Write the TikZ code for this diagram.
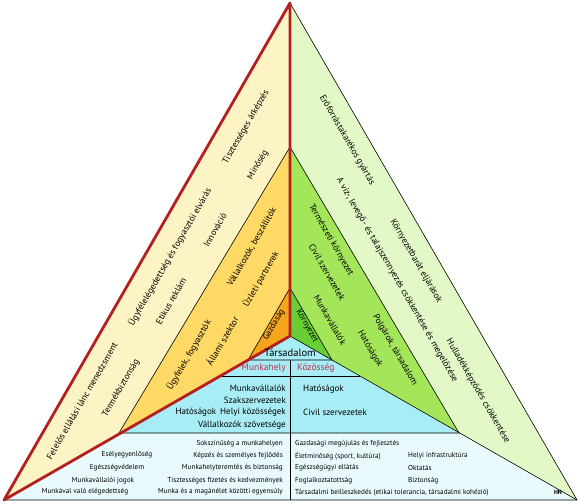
\documentclass[tikz,border=0pt]{standalone}
\usepackage{fontspec}
\setmainfont{PT Sans}
\usepackage{xcolor}
\usetikzlibrary{calc}
\definecolor{econpale}{HTML}{FDF4C6}
\definecolor{econmid}{HTML}{FFD966}
\definecolor{econcore}{HTML}{F8A51E}
\definecolor{envpale}{HTML}{E2F8C6}
\definecolor{envmid}{HTML}{A3E65A}
\definecolor{envcore}{HTML}{67CF33}
\definecolor{socmid}{HTML}{A8ECF5}
\definecolor{socpale}{HTML}{E9FAFD}
\definecolor{redc}{HTML}{B3201F}
\definecolor{workc}{HTML}{B8334A}
\tikzset{
  edge/.style={black, line width=0.6pt},
  redline/.style={draw=redc, line width=2.8pt, line join=round},
  lside/.style={font=\fontsize{9}{10}\selectfont, rotate=60, inner sep=0pt},
  rside/.style={font=\fontsize{9}{10}\selectfont, rotate=-60, inner sep=0pt},
  lbl/.style={font=\fontsize{9}{10}\selectfont, inner sep=0pt},
  tiny/.style={font=\fontsize{7.2}{8}\selectfont, inner sep=0pt},
  place/.style={font=\fontsize{9.5}{10}\selectfont, text=workc, inner sep=0pt}}

\begin{document}
\begin{tikzpicture}[x=1pt, y=-1pt]
  \useasboundingbox (0,0) rectangle (580,503);
  % ---- corners of the three nested triangles
  \coordinate (top) at (290,3);
  \coordinate (bl) at (4,500);
  \coordinate (br) at (577,500);
  \coordinate (ctr) at (290,336);
  \coordinate (mtop) at (290,147);
  \coordinate (mbl) at (119,433);
  \coordinate (mbr) at (459,433);
  \coordinate (itop) at (290,288);
  \coordinate (ibl) at (248,360);
  \coordinate (ibr) at (332,360);
  \coordinate (imid) at (290,360);
  \coordinate (bmid) at (290,500);
  \coordinate (rowl) at ($(ctr)!0.2439!(bl)$);
  \coordinate (rowr) at ($(ctr)!0.2439!(br)$);
  % ---- sectors, then middle band, then the core
  \fill[econpale] (top) -- (bl) -- (ctr) -- cycle;
  \fill[envpale] (top) -- (br) -- (ctr) -- cycle;
  \fill[socpale] (bl) -- (br) -- (ctr) -- cycle;
  \fill[econmid] (mtop) -- (mbl) -- (ctr) -- cycle;
  \fill[envmid] (mtop) -- (mbr) -- (ctr) -- cycle;
  \fill[socmid] (mbl) -- (mbr) -- (ctr) -- cycle;
  \fill[econcore] (itop) -- (ibl) -- (ctr) -- cycle;
  \fill[envcore] (itop) -- (ibr) -- (ctr) -- cycle;
  % ---- thin edges
  \draw[edge] (top) -- (br) -- (bl);
  \draw[edge] (mbl) -- (mtop) -- (mbr) -- cycle;
  \draw[edge] (ibl) -- (itop) -- (ibr) -- cycle;
  \draw[edge] (ctr) -- (br);
  \draw[edge] (rowl) -- (rowr);
  \draw[edge] (imid) -- (bmid);
  % the economy sector is framed in red
  \draw[redline] (top) -- (bl) -- (ctr) -- cycle;

  % ---- Gazdaság: outer band
  \node[lside] (felelos) at (82,401) {Felelős ellátási lánc menedzsment};
  \node[lside] (termek) at (121,388) {Termékbiztonság};
  \node[lside] (ugyfel) at (170,257) {Ügyfélelégedettség és fogyasztói elvárás};
  \node[lside] (etikus) at (171,301) {Etikus reklám};
  \node[lside] (innov) at (215,230) {Innováció};
  \node[lside] (arkep) at (246,127) {Tisztességes árképzés};
  \node[lside] (minoseg) at (258,165) {Minőség};
  % middle band
  \node[lside] (fogyaszt) at (189,355) {Ügyfelek, fogyasztók};
  \node[lside] (allami) at (222,341) {Állami szektor};
  \node[lside] (beszall) at (252,247) {Vállalkozók, beszállítók};
  \node[lside] (partner) at (261,279) {Üzleti partnerek};
  \node[lside, font=\fontsize{8.5}{9}\selectfont] (gazd) at (274,325) {Gazdaság};

  % ---- Környezet: outer band
  \node[rside] (eroforras) at (347,140) {Erőforrástakarékos gyártás};
  \node[rside] (szenny) at (397,280)
    {A víz-, levegő- és talajszennyezés csökkentése és megelőzése};
  \node[rside] (eljar) at (416,261) {Környezetbarát eljárások};
  \node[rside] (hullad) at (478,391) {Hulladékképződés csökkentése};
  % middle band
  \node[rside] (termesz) at (331,240) {Természeti környezet};
  \node[rside] (civil) at (327,272) {Civil szervezetek};
  \node[rside] (munkav) at (330,320) {Munkavállalók};
  \node[rside] (polgar) at (395,350) {Polgárok, társadalom};
  \node[rside] (hatosag) at (370,349) {Hatóságok};
  \node[rside, font=\fontsize{8.5}{9}\selectfont] (korny) at (307,326) {Környezet};

  % ---- Társadalom
  \node[lbl, font=\fontsize{10.5}{11}\selectfont] (tars) at (290,353) {Társadalom};
  \node[place, anchor=east] (munkahely) at (286,368) {Munkahely};
  \node[place, anchor=west] (kozosseg) at (297,368) {Közösség};
  \node[lbl, anchor=east] (mv) at (286,388) {Munkavállalók};
  \node[lbl, anchor=east] (szak) at (286,400) {Szakszervezetek};
  \node[lbl, anchor=east] (helyi) at (286,412) {Hatóságok\hspace{4pt}Helyi közösségek};
  \node[lbl, anchor=east] (vszov) at (286,425) {Vállalkozók szövetsége};
  \node[lbl, anchor=west] (hat) at (303,389) {Hatóságok};
  \node[lbl, anchor=west] (civ) at (303,412) {Civil szervezetek};
  % bottom band, workplace side
  \node[tiny] (esely) at (127,455) {Esélyegyenlőség};
  \node[tiny] (egesz) at (117,468) {Egészségvédelem};
  \node[tiny] (jogok) at (103,481) {Munkavállalói jogok};
  \node[tiny] (eleged) at (85,492) {Munkával való elégedettség};
  \node[tiny, anchor=east] (sokszin) at (283,444) {Sokszínűség a munkahelyen};
  \node[tiny, anchor=east] (kepzes) at (283,456) {Képzés és személyes fejlődés};
  \node[tiny, anchor=east] (teremt) at (283,468) {Munkahelyteremtés és biztonság};
  \node[tiny, anchor=east] (fizetes) at (283,481) {Tisztességes fizetés és kedvezmények};
  \node[tiny, anchor=east] (egyens) at (283,492) {Munka és a magánélet közötti egyensúly};
  % bottom band, community side
  \node[tiny, anchor=west] (megujul) at (295,444) {Gazdasági megújulás és fejlesztés};
  \node[tiny, anchor=west] (eletmin) at (295,456) {Életminőség (sport, kultúra)};
  \node[tiny, anchor=west] (egeszugy) at (295,468) {Egészségügyi ellátás};
  \node[tiny, anchor=west] (foglalk) at (295,481) {Foglalkoztatottság};
  \node[tiny, anchor=west] (beilleszk) at (295,493)
    {Társadalmi beilleszkedés (etikai tolerancia, társadalmi kohézió)};
  \node[tiny, anchor=west] (infra) at (408,456) {Helyi infrastruktúra};
  \node[tiny, anchor=west] (oktatas) at (408,468) {Oktatás};
  \node[tiny, anchor=west] (bizt) at (408,481) {Biztonság};
  \node[tiny, font=\fontsize{6}{6}\bfseries] (hn) at (558,492) {HN};
\end{tikzpicture}
\end{document}
